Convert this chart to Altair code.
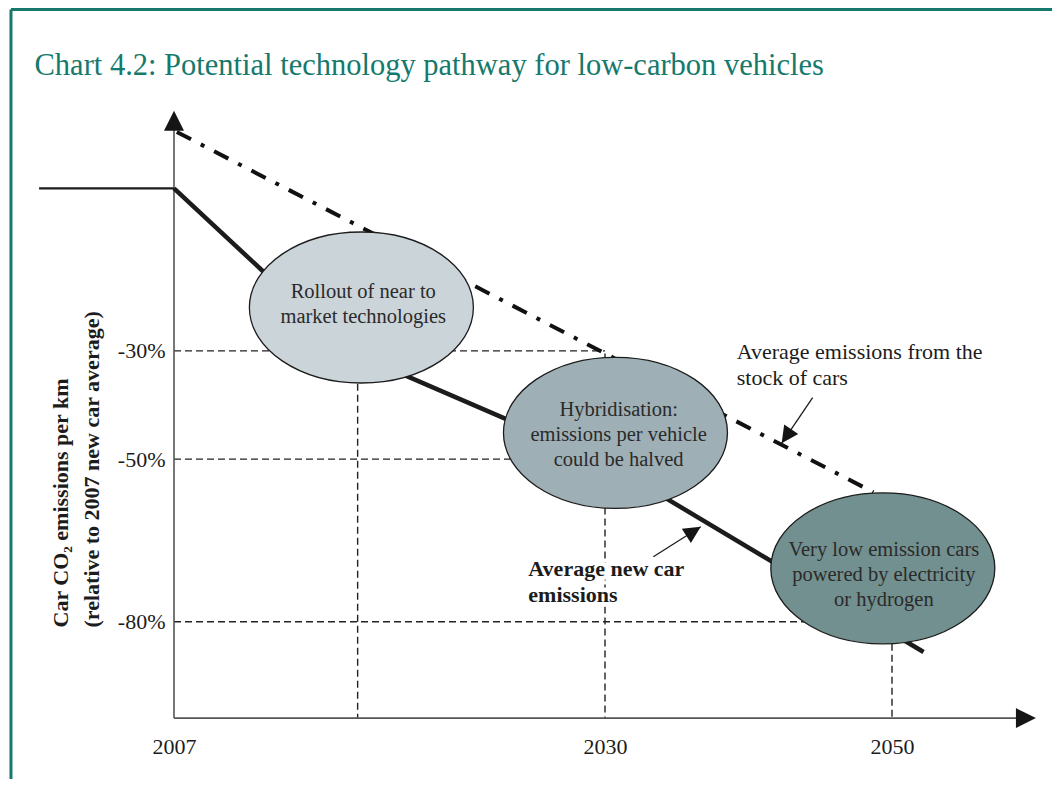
import math
import altair as alt
import pandas as pd

# ---------------- data (schematic: year vs change in car CO2 per km, % vs 2007) ----------------
tick_years = [2007, 2030, 2050]
tick_pcts = [-30, -50, -80]

pre_years = [1999.8, 2007]          # flat pre-2007 level
pre_pcts = [0, 0]

new_years = [2007, 2016.3, 2030, 2052.2]     # average new car emissions
new_pcts = [0, -30, -50.5, -85.6]

stock_years = [2007.15, 2048.7]     # average emissions from the stock of cars
stock_pcts = [10.4, -56.1]

ell_years = [2017.0, 2030.73, 2049.36]
ell_pcts = [-22.0, -45.13, -70.15]
ell_fills = ["#cbd4d9", "#9eb0b6", "#72908f"]
ell_labels = [
    "Rollout of near to\nmarket technologies",
    "Hybridisation:\nemissions per vehicle\ncould be halved",
    "Very low emission cars\npowered by electricity\nor hydrogen",
]
ell_label_years = [2017.1, 2030.95, 2049.43]
ell_label_pcts = [-20.34, -42.03, -67.87]

hguide_pcts = [-30, -50, -80]
hguide_from = [2007, 2007, 2007]
hguide_to = [2030, 2030, 2050]
vguide_years = [2016.8, 2030, 2050]
vguide_top = [-30, -30.5, -80]
axis_floor = -97.8
axis_top = 14.3
axis_right = 2060.03

ann_labels = ["Average emissions from the\nstock of cars", "Average new car\nemissions"]
ann_years = [2039.18, 2025.91]
ann_pcts = [-31.56, -71.57]
arrow_from_years = [2044.47, 2033.37]
arrow_from_pcts = [-38.65, -68.0]
arrow_to_years = [2042.31, 2036.67]
arrow_to_pcts = [-47.07, -62.47]

frame_year = 1998.3
frame_top = 33.0
frame_bottom = -109.2
frame_right = 2062.0

title_text = "Chart 4.2: Potential technology pathway for low-carbon vehicles"
y_title = ["Car CO\u2082 emissions per km", "(relative to 2007 new car average)"]

# ---------------- scales / styles ----------------
X_RANGE = [163, 594, 881]
Y_DOMAIN = [-108.3, 33.1]
W, H = 1041, 766
SERIF = "Liberation Serif"
TEAL = "#15796c"
INK = "#1c1c1c"


def px(year):
    # same piecewise mapping as the x scale (used only for arrowhead rotation)
    d, r = tick_years, X_RANGE
    if year <= d[1]:
        return r[0] + (year - d[0]) * (r[1] - r[0]) / (d[1] - d[0])
    return r[1] + (year - d[1]) * (r[2] - r[1]) / (d[2] - d[1])


def py(pct):
    return (Y_DOMAIN[1] - pct) * H / (Y_DOMAIN[1] - Y_DOMAIN[0])


def heading(x0, y0, x1, y1):
    dx, dy = px(x1) - px(x0), py(y1) - py(y0)
    return math.degrees(math.atan2(dx, -dy)) % 360


xs = alt.Scale(domain=tick_years, range=X_RANGE, nice=False, zero=False)
ys = alt.Scale(domain=Y_DOMAIN, nice=False, zero=False)
xaxis = alt.Axis(values=tick_years, format="d", title=None, grid=False, domain=False, ticks=False,
                 offset=-57, labelPadding=35, labelBaseline="alphabetic", labelFont=SERIF,
                 labelFontSize=22, labelColor=INK, labelFlush=False, labelOverlap=False)
yaxis = alt.Axis(values=tick_pcts, labelExpr="datum.value + '%'", title=y_title, grid=False,
                 domain=False, ticks=False, offset=-163, labelPadding=9, labelFont=SERIF,
                 labelFontSize=22, labelColor=INK, labelBaseline="middle",
                 titleFont=SERIF, titleFontSize=22, titleFontWeight="bold", titleColor=INK,
                 titleAngle=270, titleAlign="left", titleBaseline="alphabetic",
                 titleLineHeight=31, titleX=-107, titleY=618)


def X(f):
    return alt.X(f, type="quantitative", scale=xs, axis=xaxis)


def Y(f):
    return alt.Y(f, type="quantitative", scale=ys, axis=yaxis)


# ---------------- tables ----------------
frame_df = pd.DataFrame({"x1": [frame_year, frame_year], "x2": [frame_right, frame_year],
                         "y1": [frame_top, frame_top], "y2": [frame_top, frame_bottom]})
hg_df = pd.DataFrame({"x1": hguide_from, "x2": hguide_to, "y1": hguide_pcts, "y2": hguide_pcts})
vg_df = pd.DataFrame({"x1": vguide_years, "x2": vguide_years, "y1": vguide_top,
                      "y2": [axis_floor] * 3})
guides_df = pd.concat([hg_df, vg_df], ignore_index=True)
axes_df = pd.DataFrame({"x1": [tick_years[0], tick_years[0]], "x2": [tick_years[0], axis_right - 1],
                        "y1": [axis_floor, axis_floor], "y2": [axis_top - 2, axis_floor]})
pre_df = pd.DataFrame({"x1": [pre_years[0]], "x2": [pre_years[1]], "y1": [pre_pcts[0]], "y2": [pre_pcts[1]]})
new_df = pd.DataFrame({"year": new_years, "pct": new_pcts})
stock_df = pd.DataFrame({"year": stock_years, "pct": stock_pcts})
ell_df = pd.DataFrame({"year": ell_years, "pct": ell_pcts, "fill": ell_fills})
ell_lab_df = pd.DataFrame({"year": ell_label_years, "pct": ell_label_pcts, "label": ell_labels})
arrow_df = pd.DataFrame({"x1": arrow_from_years, "x2": arrow_to_years,
                         "y1": arrow_from_pcts, "y2": arrow_to_pcts})
heads_df = pd.DataFrame({
    "year": [tick_years[0], axis_right] + arrow_to_years,
    "pct": [axis_top, axis_floor] + arrow_to_pcts,
    "angle": [0.0, 90.0] + [heading(a, b, c, d) for a, b, c, d in
                            zip(arrow_from_years, arrow_from_pcts, arrow_to_years, arrow_to_pcts)],
    "size": [1600, 1600, 1156, 1156],
})
ann_df = pd.DataFrame({"year": ann_years, "pct": ann_pcts, "label": ann_labels})

ELLIPSE = "M -1 0 A 1 0.674 0 1 0 1 0 A 1 0.674 0 1 0 -1 0 Z"
HEAD = "M 0 0 L -0.5 1 L 0.5 1 Z"


def rules(df, **kw):
    return alt.Chart(df).mark_rule(**kw).encode(x=X("x1"), x2="x2:Q", y=Y("y1"), y2="y2:Q")


def ann_text(df, **kw):
    return alt.Chart(df).mark_text(align="left", baseline="alphabetic", lineBreak="\n",
                                   lineHeight=26, font=SERIF, fontSize=22, **kw).encode(
        x=X("year"), y=Y("pct"), text="label:N")


layers = [
    rules(frame_df, color=TEAL, strokeWidth=3),
    rules(guides_df, color="#222222", strokeWidth=1.4, strokeDash=[7, 4]),
    rules(axes_df, color="#555555", strokeWidth=1.6),
    rules(pre_df, color=INK, strokeWidth=2.2),
    alt.Chart(new_df).mark_line(color=INK, strokeWidth=4.5).encode(x=X("year"), y=Y("pct")),
    alt.Chart(stock_df).mark_line(color="#111111", strokeWidth=4, strokeDash=[16, 11, 4, 11]).encode(
        x=X("year"), y=Y("pct")),
    alt.Chart(ell_df).mark_point(shape=ELLIPSE, size=224 * 224, filled=True, opacity=1,
                                 stroke=INK, strokeWidth=1.3).encode(
        x=X("year"), y=Y("pct"), fill=alt.Fill("fill:N", scale=None)),
    alt.Chart(ell_lab_df).mark_text(align="center", baseline="alphabetic", lineBreak="\n",
                                    lineHeight=25, font=SERIF, fontSize=20.5, color="#2a2a2a").encode(
        x=X("year"), y=Y("pct"), text="label:N"),
    rules(arrow_df, color=INK, strokeWidth=1.3),
    alt.Chart(heads_df).mark_point(shape=HEAD, filled=True, opacity=1, color="#151515", strokeWidth=0).encode(
        x=X("year"), y=Y("pct"), size=alt.Size("size:Q", scale=None),
        angle=alt.Angle("angle:Q", scale=None)),
    ann_text(ann_df.iloc[[0]], color=INK),
    # white halo so the guide line breaks behind the label, then the label itself
    ann_text(ann_df.iloc[[1]], fontWeight="bold", color="white", stroke="white", strokeWidth=9,
             strokeJoin="round"),
    ann_text(ann_df.iloc[[1]], fontWeight="bold", color=INK),
]

chart = alt.layer(*layers).properties(
    width=W, height=H,
    padding={"left": 3, "top": 1, "right": 0, "bottom": 4},
    autosize=alt.AutoSizeParams(type="none"),
    title=alt.TitleParams(title_text, anchor="start", frame="group", orient="top", offset=0,
                          dx=23.5, dy=97.5, baseline="alphabetic", font=SERIF, fontSize=30.5,
                          fontWeight="normal", color=TEAL),
).configure_view(strokeWidth=0)

chart.save("out.html", embed_options={"renderer": "svg", "actions": False})
